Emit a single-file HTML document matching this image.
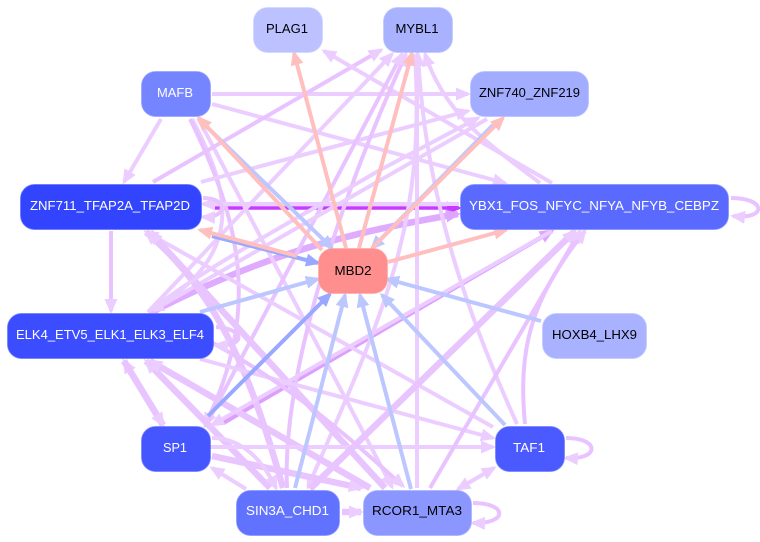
<!DOCTYPE html>
<html><head><meta charset="utf-8"><style>
html,body{margin:0;padding:0;background:#fff}
svg{display:block}
text{font-family:"Liberation Sans",sans-serif;font-size:12.5px;text-anchor:middle}
path{fill:none}
.l{stroke:#eccdff;stroke-width:4}
.m{stroke:#e8c3ff;stroke-width:4}
.t{stroke:#e9c5ff;stroke-width:6.5}
.p{stroke:#ffbfbf;stroke-width:4}
.b{stroke:#bcc6ff;stroke-width:4}
.d{stroke:#9aa8ff;stroke-width:4}
</style></head><body>
<svg width="760" height="542" viewBox="0 0 760 542" xmlns="http://www.w3.org/2000/svg">
<defs>
<marker id="al" markerUnits="userSpaceOnUse" markerWidth="17" markerHeight="14" refX="12" refY="7" orient="auto"><polygon points="0,0.5 15,7 0,13.5" fill="#eccdff"/></marker>
<marker id="am" markerUnits="userSpaceOnUse" markerWidth="17" markerHeight="14" refX="12" refY="7" orient="auto"><polygon points="0,0.5 15,7 0,13.5" fill="#e8c3ff"/></marker>
<marker id="ad" markerUnits="userSpaceOnUse" markerWidth="17" markerHeight="14" refX="12" refY="7" orient="auto"><polygon points="0,0.5 15,7 0,13.5" fill="#dca6ff"/></marker>
<marker id="ap" markerUnits="userSpaceOnUse" markerWidth="17" markerHeight="14" refX="12" refY="7" orient="auto"><polygon points="0,0.5 15,7 0,13.5" fill="#ffbfbf"/></marker>
<marker id="ab" markerUnits="userSpaceOnUse" markerWidth="17" markerHeight="14" refX="12" refY="7" orient="auto"><polygon points="0,0.5 15,7 0,13.5" fill="#bcc6ff"/></marker>
<marker id="ae" markerUnits="userSpaceOnUse" markerWidth="17" markerHeight="14" refX="12" refY="7" orient="auto"><polygon points="0,0.5 15,7 0,13.5" fill="#9aa8ff"/></marker>
<marker id="av" markerUnits="userSpaceOnUse" markerWidth="17" markerHeight="14" refX="12" refY="7" orient="auto"><polygon points="0,0.5 15,7 0,13.5" fill="#c53cff"/></marker>
</defs>

<!-- vivid -->
<path d="M215,208 L459,208" stroke="#c53cff" stroke-width="3.500" marker-end="url(#av)"/>

<!-- dark purple -->
<path d="M152,312 C250,262 330,235 458,214" stroke="#dfabff" stroke-width="6.500" marker-end="url(#ad)"/>
<path d="M223,423 L552,231" stroke="#dc9eff" stroke-width="4.500" marker-end="url(#ad)"/>

<g marker-end="url(#al)">
<path class="l" d="M161,119 L124,182"/>
<path class="l" d="M212,94 L468,94"/>
<path class="l" d="M212,104 L505,183"/>
<path class="l" d="M192,119 C232,195 245,255 151,311"/>
<path class="l" d="M198,118 L392,487"/>
<path class="m" d="M190,119 C240,220 262,310 205,425"/>
<path class="m" d="M153,182 L381,50"/>
<path class="l" d="M201,182 L468,111"/>
<path class="m" d="M111,231 L111,311"/>
<path class="l" d="M459,204 L203,204"/>
<path class="l" d="M552,183 L324,51"/>
<path class="l" d="M540,183 C490,145 445,115 425,54"/>
<path class="l" d="M148,312 L392,54"/>
<path class="m" d="M205,427 L402,54"/>
<path class="m" d="M287,488 C282,380 335,210 406,54"/>
<path class="l" d="M415,54 C425,220 390,300 308,487"/>
<path class="l" d="M417,488 L417,54"/>
<path class="l" d="M517,424 C470,320 425,200 418,54"/>
<path class="l" d="M487,119 L152,311"/>
<path class="l" d="M493,427 L146,232"/>
<path class="t" d="M283,488 C250,370 215,290 146,232"/>
<path class="t" d="M385,488 L150,232"/>
<path class="t" d="M270,488 L146,361"/>
<path class="t" d="M370,488 L150,361"/>
<path class="l" d="M200,359 L493,438"/>
<path class="l" d="M210,447 L493,447"/>
<path class="t" d="M212,456 L361,488"/>
<path class="l" d="M212,438 C245,438 265,465 276,488"/>
<path class="l" d="M246,489 L212,468"/>
<path class="t" d="M342,512 L361,512"/>
<path class="l" d="M458,489 L494,468"/>
<path class="l" d="M494,468 L458,489"/>
<path class="t" d="M163,425 L124,361"/>
<path class="t" d="M124,361 L163,425"/>
<path class="t" d="M310,489 L575,231"/>
<path class="m" d="M430,488 L580,231"/>
<path class="m" d="M525,424 C518,350 530,300 585,231"/>
<path class="l" d="M552,231 L212,425"/>
<path class="m" d="M150,312 C260,360 330,420 403,486"/>
<path class="l" d="M148,312 C210,265 260,240 380,170 L478,118"/>
<path class="m" d="M203,198 C228,198 228,218 203,217"/>
<path class="m" d="M216,327 C246,329 246,347 216,345"/>
<path class="m" d="M731,198 C767,198 767,220 733,216"/>
<path class="m" d="M566,438 C600,438 600,460 566,458"/>
<path class="m" d="M473,503 C508,503 508,524 473,523"/>
</g>

<g>
<path class="b" d="M207,127 L332,248" marker-end="url(#ab)"/>
<path class="b" d="M493,125 L372,248" marker-end="url(#ab)"/>
<path class="d" d="M212,236 L318,263" marker-end="url(#ae)"/>
<path class="b" d="M200,312 L318,279" marker-end="url(#ab)"/>
<path class="b" d="M541,321 L387,279" marker-end="url(#ab)"/>
<path class="b" d="M505,425 L382,295" marker-end="url(#ab)"/>
<path class="b" d="M411,489 L360,295" marker-end="url(#ab)"/>
<path class="b" d="M295,488 L345,295" marker-end="url(#ab)"/>
<path class="d" d="M208,416 L330,294" marker-end="url(#ae)"/>
<path class="p" d="M346,248 L294,53" marker-end="url(#ap)"/>
<path class="p" d="M359,248 L412,53" marker-end="url(#ap)"/>
<path class="p" d="M322,250 L199,118" marker-end="url(#ap)"/>
<path class="p" d="M297,256 L200,230" marker-end="url(#ap)"/>
<path class="p" d="M372,248 L503,118" marker-end="url(#ap)"/>
<path class="p" d="M388,262 L506,230" marker-end="url(#ap)"/>
</g>

<g stroke-width="1" stroke-opacity="0.6">
<rect x="253.500" y="7.500" width="69" height="45" rx="14" fill="#bcc2ff" stroke="#ced3ff"/>
<rect x="383.500" y="7.500" width="69" height="45" rx="14" fill="#a9b2ff" stroke="#bcc3ff"/>
<rect x="141.500" y="71.500" width="69" height="45" rx="14" fill="#7585ff" stroke="#8e9bff"/>
<rect x="470.500" y="71.500" width="118" height="45" rx="14" fill="#a3adff" stroke="#b6bdff"/>
<rect x="20.500" y="184.500" width="181" height="45" rx="14" fill="#3344ff" stroke="#5a68ff"/>
<rect x="460.500" y="184.500" width="268" height="45" rx="14" fill="#5a6aff" stroke="#7a87ff"/>
<rect x="318.500" y="248.500" width="69" height="45" rx="14" fill="#ff8e8e" stroke="#ffa8a8"/>
<rect x="7.500" y="313.500" width="206" height="45" rx="14" fill="#3c4cff" stroke="#6270ff"/>
<rect x="542.500" y="313.500" width="104" height="45" rx="14" fill="#a9b2ff" stroke="#bcc3ff"/>
<rect x="141.500" y="426.500" width="69" height="45" rx="14" fill="#4556ff" stroke="#6a78ff"/>
<rect x="495.500" y="426.500" width="69" height="45" rx="14" fill="#4a5aff" stroke="#6c7aff"/>
<rect x="236.500" y="490.500" width="103" height="45" rx="14" fill="#6172ff" stroke="#7f8cff"/>
<rect x="363.500" y="490.500" width="108" height="45" rx="14" fill="#8b97ff" stroke="#a1abff"/>
</g>

<text x="287" y="33" textLength="42" lengthAdjust="spacingAndGlyphs" fill="#000">PLAG1</text>
<text x="417" y="33" textLength="43" lengthAdjust="spacingAndGlyphs" fill="#000">MYBL1</text>
<text x="175" y="97" textLength="36" lengthAdjust="spacingAndGlyphs" fill="#fff">MAFB</text>
<text x="529.500" y="97" textLength="101" lengthAdjust="spacingAndGlyphs" fill="#000">ZNF740_ZNF219</text>
<text x="110" y="210" textLength="160" lengthAdjust="spacingAndGlyphs" fill="#fff">ZNF711_TFAP2A_TFAP2D</text>
<text x="594" y="210" textLength="250" lengthAdjust="spacingAndGlyphs" fill="#fff">YBX1_FOS_NFYC_NFYA_NFYB_CEBPZ</text>
<text x="353" y="275" textLength="37" lengthAdjust="spacingAndGlyphs" fill="#000">MBD2</text>
<text x="110" y="339" textLength="188" lengthAdjust="spacingAndGlyphs" fill="#fff">ELK4_ETV5_ELK1_ELK3_ELF4</text>
<text x="594.500" y="339" textLength="85" lengthAdjust="spacingAndGlyphs" fill="#000">HOXB4_LHX9</text>
<text x="175" y="452" textLength="24" lengthAdjust="spacingAndGlyphs" fill="#fff">SP1</text>
<text x="529" y="452" textLength="32" lengthAdjust="spacingAndGlyphs" fill="#fff">TAF1</text>
<text x="287.500" y="515" textLength="83" lengthAdjust="spacingAndGlyphs" fill="#fff">SIN3A_CHD1</text>
<text x="417" y="515" textLength="90" lengthAdjust="spacingAndGlyphs" fill="#000">RCOR1_MTA3</text>
</svg>
</body></html>
